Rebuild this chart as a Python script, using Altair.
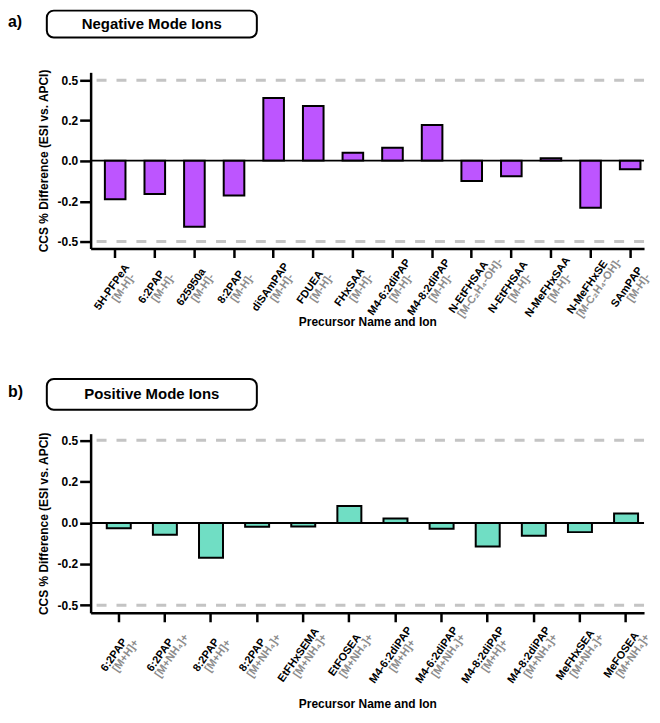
import altair as alt
import pandas as pd

FONT = "Liberation Sans"

# ---- data ----
neg_names = ["5H-PFPeA", "6:2PAP", "625950a", "8:2PAP", "diSAmPAP", "FDUEA", "FHxSAA",
             "M4-6:2diPAP", "M4-8:2diPAP", "N-EtFHSAA", "N-EtFHSAA", "N-MeFHxSAA",
             "N-MeFHxSE", "SAmPAP"]
neg_ions = ["[M-H]-", "[M-H]-", "[M-H]-", "[M-H]-", "[M-H]-", "[M-H]-", "[M-H]-",
            "[M-H]-", "[M-H]-", "[M-C₂H₄-OH]-", "[M-H]-", "[M-H]-",
            "[M-C₂H₄-OH]-", "[M-H]-"]
neg_values = [-0.19, -0.164, -0.39, -0.172, 0.366, 0.306, 0.039, 0.064, 0.176,
              -0.10, -0.077, 0.012, -0.249, -0.042]

pos_names = ["6:2PAP", "6:2PAP", "8:2PAP", "8:2PAP", "EtFHxSEMA", "EtFOSEA",
             "M4-6:2diPAP", "M4-6:2diPAP", "M4-8:2diPAP", "M4-8:2diPAP",
             "MeFHxSEA", "MeFOSEA"]
pos_ions = ["[M+H]+", "[M+NH₄]+", "[M+H]+", "[M+NH₄]+", "[M+NH₄]+", "[M+NH₄]+",
            "[M+H]+", "[M+NH₄]+", "[M+H]+", "[M+NH₄]+", "[M+NH₄]+", "[M+NH₄]+"]
pos_values = [-0.026, -0.058, -0.171, -0.019, -0.018, 0.082, 0.021, -0.029,
              -0.116, -0.063, -0.045, 0.045]

y_ticks = [0.5, 0.2, 0.0, -0.2, -0.5]
ref_lines = [0.5, -0.5]

PURPLE = "#BD55FF"
TEAL = "#70DEC4"
WIDTH = 556


def make_panel(names, ions, values, color, letter, title, height,
               y_domain, y_range, box_y, box_text_y, title_pad,
               pad_outer, band_align, lab_dx, lab_dy):
    df = pd.DataFrame({
        "key": [f"{i:02d}" for i in range(len(names))],
        "name": names,
        "ion": ions,
        "value": values,
    })
    xscale = alt.Scale(paddingInner=0.48, paddingOuter=pad_outer, align=band_align)
    x = alt.X("key:N", sort=None, scale=xscale,
              axis=alt.Axis(labels=False, title="Precursor Name and Ion",
                            titlePadding=title_pad, tickSize=9))
    yscale = alt.Scale(domain=y_domain, range=y_range, nice=False, zero=False)
    y = alt.Y("value:Q", scale=yscale,
              axis=alt.Axis(values=y_ticks, grid=False, tickSize=11, labelPadding=2,
                            labelExpr="(datum.value < 0 ? '-' : '') + format(abs(datum.value), '.1f')",
                            title="CCS % Difference (ESI vs. APCI)", titlePadding=7))

    one = pd.DataFrame({"d": [0]})

    bars = alt.Chart(df).mark_bar(fill=color, stroke="black", strokeWidth=2).encode(x=x, y=y)

    dashed = [
        alt.Chart(one).mark_rule(color="#c4c4c4", strokeWidth=3, strokeDash=[10, 10]).encode(
            y=alt.datum(v))
        for v in ref_lines
    ]
    zero = alt.Chart(one).mark_rule(color="black", strokeWidth=2).encode(y=alt.datum(0))

    name_txt = alt.Chart(df).mark_text(
        angle=305, align="center", baseline="middle", dx=lab_dx, dy=lab_dy,
        fontSize=11, fontWeight="bold", color="black", font=FONT
    ).encode(x=alt.X("key:N", sort=None), y=alt.value(height), text="name:N")

    ion_txt = alt.Chart(df).mark_text(
        angle=305, align="center", baseline="middle", dx=lab_dx + 6, dy=lab_dy + 10,
        fontSize=11, fontWeight="bold", color="#8c8c8c", font=FONT
    ).encode(x=alt.X("key:N", sort=None), y=alt.value(height), text="ion:N")

    box = alt.Chart(one).mark_rect(
        fill="white", stroke="black", strokeWidth=2, cornerRadius=7
    ).encode(x=alt.value(-44), x2=alt.value(167), y=alt.value(box_y[0]), y2=alt.value(box_y[1]))

    box_text = alt.Chart(one).mark_text(
        fontSize=15, fontWeight="bold", color="black", font=FONT, baseline="middle"
    ).encode(x=alt.value(61.5), y=alt.value(box_text_y), text=alt.value(title))

    letter_txt = alt.Chart(one).mark_text(
        fontSize=16, fontWeight="bold", color="black", font=FONT, align="left",
        baseline="middle"
    ).encode(x=alt.value(-83), y=alt.value(box_text_y - 2), text=alt.value(letter))

    return alt.layer(*dashed, bars, zero, name_txt, ion_txt, box, box_text, letter_txt).properties(
        width=WIDTH, height=height)


panel_a = make_panel(
    neg_names, neg_ions, neg_values, PURPLE, "a)", "Negative Mode Ions", 177,
    [-0.552, -0.5, -0.2, 0.0, 0.2, 0.5, 0.559],
    [177, 170, 129.5, 88.7, 48, 8, 0],
    (-62, -35), -48.5, 58,
    0.225, 0.80, -33.6, 19.9)

panel_b = make_panel(
    pos_names, pos_ions, pos_values, TEAL, "b)", "Positive Mode Ions", 180,
    [-0.555, -0.5, -0.2, 0.0, 0.2, 0.5, 0.549],
    [180, 172.4, 130.7, 89.7, 48, 6.7, 0],
    (-55, -24), -39.5, 76,
    0.24, 0.73, -37.4, 20.7)

chart = alt.vconcat(panel_a, panel_b, spacing=186, bounds="flush").properties(
    padding=0
).configure(font=FONT).configure_view(
    stroke=None
).configure_axis(
    domainColor="black", domainWidth=2.5, tickColor="black", tickWidth=2.5,
    labelColor="black", labelFont=FONT, labelFontSize=12, labelFontWeight="bold",
    titleColor="black", titleFont=FONT, titleFontSize=12, titleFontWeight="bold"
)

chart.save("out.html", embed_options={"renderer": "svg", "actions": False})
